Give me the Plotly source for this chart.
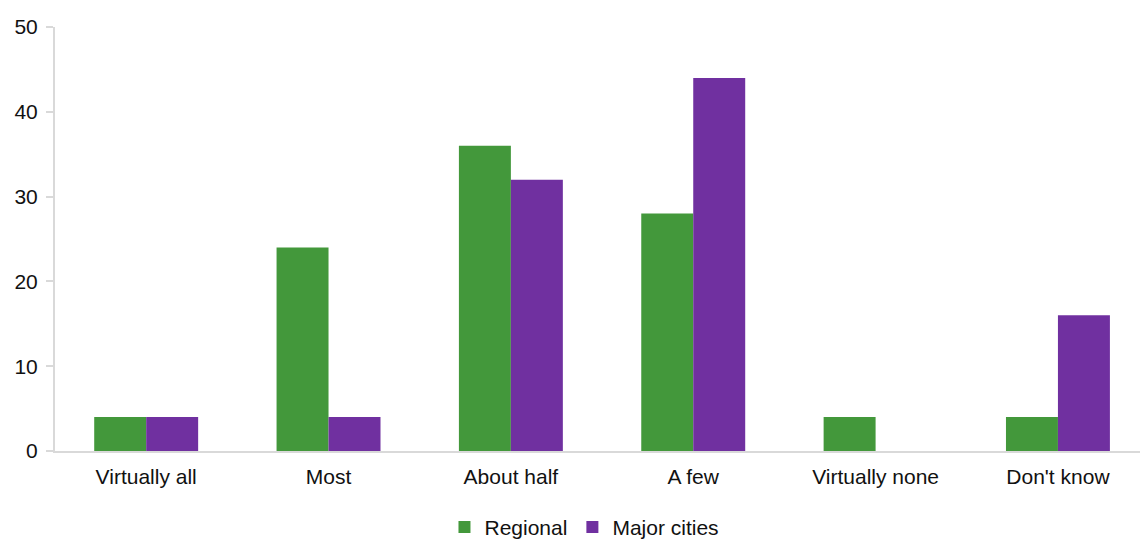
import plotly.graph_objects as go

categories = ["Virtually all", "Most", "About half", "A few", "Virtually none", "Don't know"]
regional = [4, 24, 36, 28, 4, 4]
major_cities = [4, 4, 32, 44, 0, 16]

fig = go.Figure()
fig.add_trace(go.Bar(name="Regional", x=categories, y=regional,
                     marker=dict(color="#43983B", line=dict(width=0))))
fig.add_trace(go.Bar(name="Major cities", x=categories, y=major_cities,
                     marker=dict(color="#7030A0", line=dict(width=0))))

fig.update_layout(
    width=1140, height=543,
    margin=dict(l=55, r=0, t=27, b=92, autoexpand=False),
    paper_bgcolor="white", plot_bgcolor="white",
    barmode="group", bargap=0.43, bargroupgap=0,
    font=dict(family="Liberation Sans, Arial, sans-serif", size=21, color="#111111"),
    showlegend=True,
    legend=dict(orientation="h", x=0.488, xanchor="center", y=-0.18, yanchor="middle",
                font=dict(size=21), itemwidth=30, traceorder="normal"),
)
fig.update_xaxes(range=[-0.5, 5.45], showline=True, linecolor="#d9d9d9", linewidth=2,
                 ticks="", showgrid=False, ticklabelstandoff=6, automargin=False)
fig.update_yaxes(range=[0, 50], dtick=10, showline=True, linecolor="#d9d9d9", linewidth=2,
                 ticks="outside", ticklen=7, tickcolor="#d9d9d9", tickwidth=2,
                 showgrid=False, zeroline=False, ticklabelstandoff=4, automargin=False)

fig.write_html("out.html")
